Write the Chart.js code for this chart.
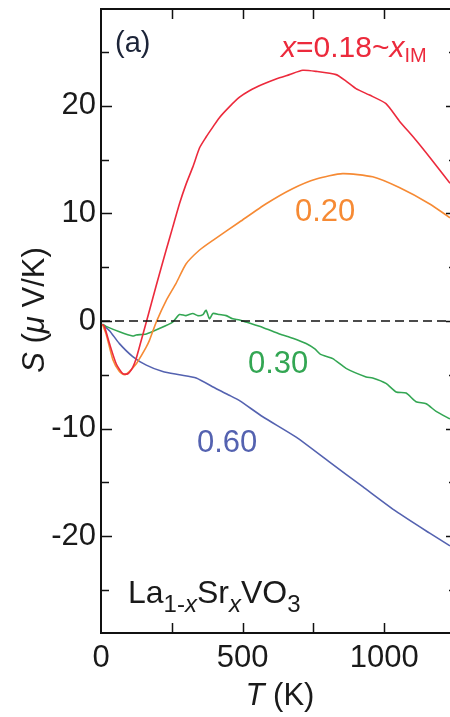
<!DOCTYPE html>
<html>
<head>
<meta charset="utf-8">
<title>La1-xSrxVO3 thermopower</title>
<script src="https://cdn.jsdelivr.net/npm/chart.js@4.4.1/dist/chart.umd.min.js"></script>
<style>
  html, body { margin: 0; padding: 0; background: #fff; overflow: hidden; }
  #wrap { position: absolute; left: 0; top: 0; width: 450px; height: 717px; }
</style>
</head>
<body>
<div id="wrap"><canvas id="seebeck" width="450" height="717"></canvas></div>
<script>
// Seebeck coefficient S (uV/K) vs temperature T (K) for La1-xSrxVO3
const tempX018 = [5, 12, 30, 54, 77, 95, 112, 124, 140, 160, 195, 230, 253, 277, 300, 324, 348, 371, 394, 418, 453, 489, 524, 571, 618, 665, 712, 759, 830, 865, 900, 948, 1006, 1053, 1112, 1170, 1232];
const seebeckX018 = [-0.3, -0.5, -2.1, -4.0, -4.9, -4.9, -4.3, -3.5, -2.0, -0.1, 3.3, 6.6, 8.7, 10.9, 12.7, 14.3, 16.1, 17.1, 18.0, 18.9, 19.9, 20.8, 21.4, 22.0, 22.5, 22.9, 23.3, 23.2, 22.9, 22.3, 21.6, 21.0, 20.2, 18.6, 16.8, 14.9, 12.8];

const tempX020 = [5, 18, 42, 65, 83, 100, 124, 136, 160, 171, 195, 230, 265, 300, 348, 395, 489, 583, 676, 760, 853, 959, 1053, 1159, 1232];
const seebeckX020 = [-0.3, -1.2, -3.6, -4.7, -5.0, -4.7, -4.0, -3.5, -2.4, -1.8, -0.1, 1.9, 3.5, 5.3, 6.6, 7.5, 9.2, 10.9, 12.3, 13.2, 13.7, 13.4, 12.4, 10.9, 9.6];

const tempX030 = [5, 18, 65, 112, 124, 160, 206, 253, 277, 300, 324, 342, 360, 371, 383, 395, 418, 442, 465, 489, 512, 571, 630, 677, 724, 755, 775, 818, 865, 936, 959, 1006, 1042, 1077, 1112, 1148, 1183, 1232];
const seebeckX030 = [-0.3, -0.5, -1.0, -1.4, -1.3, -1.2, -0.7, -0.1, 0.6, 0.5, 0.7, 0.5, 0.6, 1.0, 0.2, 0.7, 0.6, 0.5, 0.2, 0.1, -0.1, -0.6, -1.2, -1.6, -2.1, -2.6, -3.1, -3.5, -4.4, -5.2, -5.3, -5.8, -6.6, -6.7, -7.5, -7.7, -8.4, -9.1];

const tempX060 = [5, 30, 65, 112, 160, 218, 277, 336, 407, 453, 489, 571, 689, 806, 924, 1042, 1159, 1232];
const seebeckX060 = [-0.3, -0.9, -2.1, -3.3, -4.1, -4.7, -5.0, -5.3, -6.3, -6.9, -7.4, -8.9, -10.8, -13.1, -15.4, -17.7, -19.7, -20.9];

const xTickValues = [0, 500, 1000];
const xTickMarks = [250, 500, 750, 1000];
const yTickValues = [20, 10, 0, -10, -20];
const yMinorMarks = [25, 15, 5, -5, -15, -25];

const FONT = '"Liberation Sans", Arial, Helvetica, sans-serif';
const RED = '#ec2a3c', ORANGE = '#f68a34', GREEN = '#33a653', BLUE = '#5462b0';

const toPoints = (ts, ss) => ts.map((t, i) => ({ x: t, y: ss[i] }));

function drawRuns(ctx, x, y, runs, color) {
  ctx.fillStyle = color;
  ctx.textAlign = 'left';
  ctx.textBaseline = 'alphabetic';
  for (const r of runs) {
    ctx.font = (r.italic ? 'italic ' : '') + r.size + 'px ' + FONT;
    ctx.fillText(r.text, x, y + (r.dy || 0));
    x += ctx.measureText(r.text).width;
  }
}

function runsWidth(ctx, runs) {
  let w = 0;
  for (const r of runs) {
    ctx.font = (r.italic ? 'italic ' : '') + r.size + 'px ' + FONT;
    w += ctx.measureText(r.text).width;
  }
  return w;
}

// top frame, inward ticks, axis titles and curve labels
const decor = {
  id: 'decor',
  afterDraw(chart) {
    const { ctx, chartArea: a, scales: { x, y } } = chart;
    ctx.save();
    ctx.strokeStyle = '#111';
    ctx.lineWidth = 2;
    ctx.beginPath();
    ctx.moveTo(a.left - 1, a.top);
    ctx.lineTo(a.right, a.top);
    ctx.stroke();

    // the right frame sits just past the edge, only its ticks show
    const rightEdge = a.right + 7;
    ctx.lineWidth = 1.5;
    ctx.beginPath();
    for (const v of yTickValues) {
      const py = Math.round(y.getPixelForValue(v)) + 0.5;
      ctx.moveTo(a.left, py); ctx.lineTo(a.left + 11, py);
      ctx.moveTo(rightEdge, py); ctx.lineTo(rightEdge - 11, py);
    }
    for (const v of yMinorMarks) {
      const py = Math.round(y.getPixelForValue(v)) + 0.5;
      ctx.moveTo(a.left, py); ctx.lineTo(a.left + 8, py);
      ctx.moveTo(rightEdge, py); ctx.lineTo(rightEdge - 8, py);
    }
    for (const v of xTickMarks) {
      const px = Math.round(x.getPixelForValue(v)) + 0.5;
      ctx.moveTo(px, a.bottom); ctx.lineTo(px, a.bottom - 10);
      ctx.moveTo(px, a.top); ctx.lineTo(px, a.top + 10);
    }
    ctx.stroke();

    // y title, rotated
    const yTitle = [
      { text: 'S', italic: true, size: 31 },
      { text: ' (', size: 31 },
      { text: 'μ', italic: true, size: 31 },
      { text: ' V/K)', size: 31 }
    ];
    ctx.save();
    ctx.translate(33, 310);
    ctx.rotate(-Math.PI / 2);
    drawRuns(ctx, -runsWidth(ctx, yTitle) / 2, 11, yTitle, '#1a1a1a');
    ctx.restore();

    // x title
    const xTitle = [
      { text: 'T', italic: true, size: 31 },
      { text: ' (K)', size: 31 }
    ];
    drawRuns(ctx, 280 - runsWidth(ctx, xTitle) / 2, 705, xTitle, '#1a1a1a');

    drawRuns(ctx, 115, 52, [{ text: '(a)', size: 29 }], '#1c2438');

    drawRuns(ctx, 281, 57, [
      { text: 'x', italic: true, size: 30 },
      { text: '=0.18~', size: 30 },
      { text: 'x', italic: true, size: 30 },
      { text: 'IM', size: 20, dy: 5 }
    ], RED);

    drawRuns(ctx, 295, 221, [{ text: '0.20', size: 31 }], ORANGE);
    drawRuns(ctx, 248, 373, [{ text: '0.30', size: 31 }], GREEN);
    drawRuns(ctx, 197, 452, [{ text: '0.60', size: 31 }], BLUE);

    drawRuns(ctx, 128, 603, [
      { text: 'La', size: 32 },
      { text: '1-', size: 24, dy: 9 },
      { text: 'x', italic: true, size: 24, dy: 9 },
      { text: 'Sr', size: 32 },
      { text: 'x', italic: true, size: 24, dy: 9 },
      { text: 'VO', size: 32 },
      { text: '3', size: 24, dy: 9 }
    ], '#1a1a1a');
    ctx.restore();
  }
};

const lineSet = (label, ts, ss, color) => ({
  label,
  data: toPoints(ts, ss),
  borderColor: color,
  borderWidth: 1.6,
  pointRadius: 0,
  tension: 0.2,
  fill: false
});

new Chart(document.getElementById('seebeck'), {
  type: 'line',
  data: {
    datasets: [
      {
        label: 'zero',
        data: [{ x: 0, y: 0 }, { x: 1232, y: 0 }],
        borderColor: '#111',
        borderWidth: 1.5,
        borderDash: [9, 5],
        pointRadius: 0
      },
      lineSet('x=0.18', tempX018, seebeckX018, RED),
      lineSet('0.20', tempX020, seebeckX020, ORANGE),
      lineSet('0.30', tempX030, seebeckX030, GREEN),
      lineSet('0.60', tempX060, seebeckX060, BLUE)
    ]
  },
  options: {
    responsive: false,
    animation: false,
    devicePixelRatio: 1,
    layout: { padding: { left: 0, right: 0, top: 9, bottom: 0 } },
    plugins: { legend: { display: false }, tooltip: { enabled: false } },
    scales: {
      x: {
        type: 'linear',
        min: 0,
        max: 1232,
        grid: { display: false, drawTicks: false },
        border: { display: true, color: '#111', width: 2 },
        afterBuildTicks: s => { s.ticks = xTickValues.map(v => ({ value: v })); },
        afterFit: s => { s.height = 84; s.paddingLeft = 0; s.paddingRight = 0; },
        ticks: {
          font: { family: FONT, size: 31 }, color: '#1a1a1a', padding: 7,
          maxRotation: 0, autoSkip: false, callback: v => String(v)
        }
      },
      y: {
        type: 'linear',
        min: -29,
        max: 29,
        grid: { display: false, drawTicks: false },
        border: { display: true, color: '#111', width: 2 },
        afterBuildTicks: s => { s.ticks = yTickValues.map(v => ({ value: v })); },
        afterFit: s => { s.width = 101; s.paddingTop = 0; s.paddingBottom = 0; },
        ticks: {
          font: { family: FONT, size: 31 }, color: '#1a1a1a', padding: 5,
          autoSkip: false, callback: v => String(v)
        }
      }
    }
  },
  plugins: [decor]
});
</script>
</body>
</html>
